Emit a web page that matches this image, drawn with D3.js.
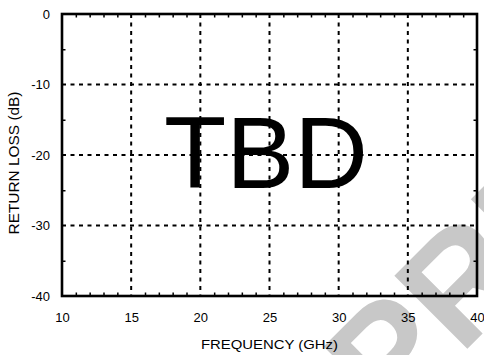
<!DOCTYPE html>
<html>
<head>
<meta charset="utf-8">
<script src="https://cdn.jsdelivr.net/npm/d3@7"></script>
<style>
  html, body { margin: 0; padding: 0; background: #fff; }
  svg { display: block; }
  text { font-family: "Liberation Sans", Arial, Helvetica, sans-serif; }
</style>
</head>
<body>
<script>
// Return loss chart frame (values to be determined)
const freqTicks = [10, 15, 20, 25, 30, 35, 40];
const freqMinor = [11, 12, 13, 14, 16, 17, 18, 19, 21, 22, 23, 24, 26, 27, 28, 29, 31, 32, 33, 34, 36, 37, 38, 39];
const lossTicks = [0, -10, -20, -30, -40];
const lossMinor = [-5, -15, -25, -35];
const placeholder = "TBD";
const stamp = "PRELIMINARY";
const xTitle = "FREQUENCY (GHz)";
const yTitle = "RETURN LOSS (dB)";

const W = 484, H = 355;
const m = { left: 62, right: 7, top: 14, bottom: 59 };

const svg = d3.select("body").append("svg")
  .attr("width", W).attr("height", H);

const x = d3.scaleLinear().domain([10, 40]).range([m.left, W - m.right]);
const y = d3.scaleLinear().domain([-40, 0]).range([H - m.bottom, m.top]);
const plain = d => String(d);

// Diagonal stamp behind the chart, clipped to the page
svg.append("clipPath").attr("id", "page")
  .append("rect").attr("width", W).attr("height", H);
svg.append("g").attr("clip-path", "url(#page)")
  .append("text")
  .attr("transform", "translate(389.5,426.5) rotate(-45)")
  .attr("font-size", 150)
  .attr("font-weight", "bold")
  .attr("fill", "#c8c8c8")
  .text(stamp);

// Dashed grid
const grid = svg.append("g")
  .attr("stroke", "#000")
  .attr("stroke-width", 2)
  .attr("stroke-dasharray", "4,4.5");
grid.selectAll(".gx")
  .data(freqTicks.slice(1, -1))
  .join("line")
  .attr("x1", d => x(d)).attr("x2", d => x(d))
  .attr("y1", y(0)).attr("y2", y(-40));
grid.selectAll(".gy")
  .data(lossTicks.slice(1, -1))
  .join("line")
  .attr("x1", x(10)).attr("x2", x(40))
  .attr("y1", d => y(d)).attr("y2", d => y(d));

// Placeholder text
svg.append("text")
  .attr("x", 266).attr("y", 188)
  .attr("text-anchor", "middle")
  .attr("font-size", 102)
  .attr("fill", "#000")
  .text(placeholder);

// Minor ticks pointing inward on all four sides
function minor(axis, tr) {
  const g = svg.append("g").attr("transform", tr).call(axis);
  g.select(".domain").remove();
  g.selectAll(".tick text").remove();
  g.selectAll(".tick line").attr("stroke", "#000").attr("stroke-width", 1.5);
}
minor(d3.axisBottom(x).tickValues(freqMinor).tickSize(-3.5), `translate(0,${y(-40)})`);
minor(d3.axisTop(x).tickValues(freqMinor).tickSize(-3.5), `translate(0,${y(0)})`);
minor(d3.axisLeft(y).tickValues(lossMinor).tickSize(-3.5), `translate(${x(10)},0)`);
minor(d3.axisRight(y).tickValues(lossMinor).tickSize(-3.5), `translate(${x(40)},0)`);

// Tick labels
const xAxis = svg.append("g")
  .attr("transform", `translate(0,${y(-40)})`)
  .call(d3.axisBottom(x).tickValues(freqTicks).tickFormat(plain).tickSize(0).tickPadding(17));
xAxis.select(".domain").remove();
xAxis.selectAll("text").attr("font-size", 13).attr("fill", "#000")
  .attr("font-family", "Liberation Sans, Arial, sans-serif");

const yAxis = svg.append("g")
  .attr("transform", `translate(${x(10)},0)`)
  .call(d3.axisLeft(y).tickValues(lossTicks).tickFormat(plain).tickSize(0).tickPadding(12));
yAxis.select(".domain").remove();
yAxis.selectAll("text").attr("font-size", 13).attr("fill", "#000")
  .attr("font-family", "Liberation Sans, Arial, sans-serif");

// Plot frame
svg.append("rect")
  .attr("x", x(10)).attr("y", y(0))
  .attr("width", x(40) - x(10)).attr("height", y(-40) - y(0))
  .attr("fill", "none").attr("stroke", "#000").attr("stroke-width", 2.6);

// Axis titles
svg.append("text")
  .attr("x", (x(10) + x(40)) / 2).attr("y", 349)
  .attr("text-anchor", "middle")
  .attr("font-size", 13.5)
  .attr("textLength", 137)
  .attr("lengthAdjust", "spacingAndGlyphs")
  .text(xTitle);

svg.append("text")
  .attr("transform", `translate(19,${(y(0) + y(-40)) / 2 + 8}) rotate(-90)`)
  .attr("text-anchor", "middle")
  .attr("font-size", 14)
  .attr("textLength", 143)
  .attr("lengthAdjust", "spacingAndGlyphs")
  .text(yTitle);
</script>
</body>
</html>
